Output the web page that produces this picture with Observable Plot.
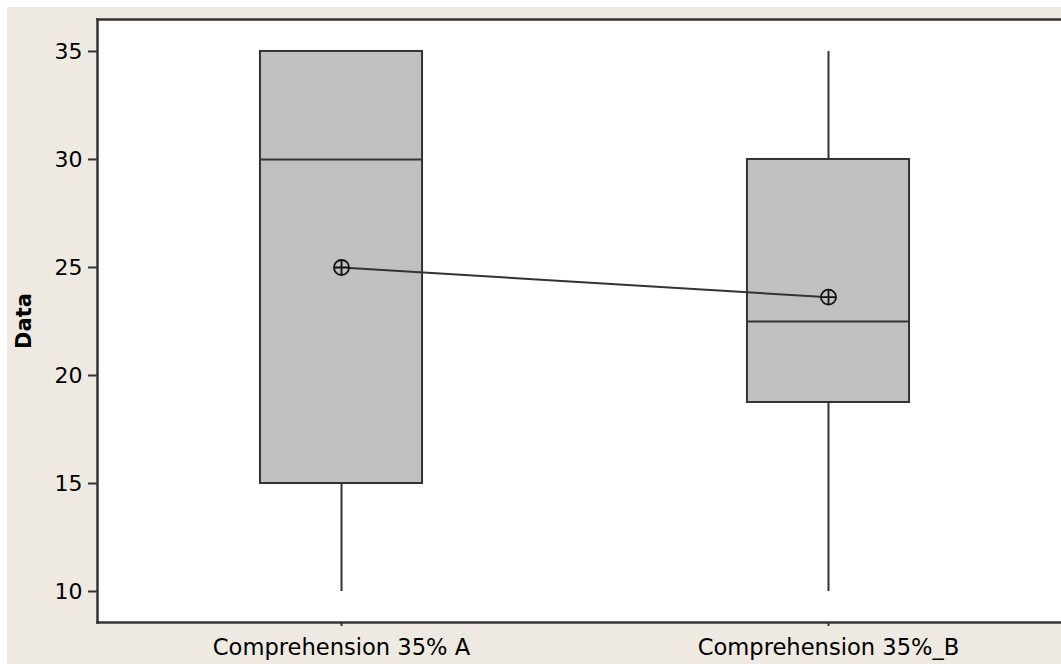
<!DOCTYPE html>
<html>
<head>
<meta charset="utf-8">
<script src="https://cdn.jsdelivr.net/npm/d3@7"></script>
<script src="https://cdn.jsdelivr.net/npm/@observablehq/plot@0.6"></script>
<style>
  html, body { margin: 0; padding: 0; background: #ffffff; }
  #bg { position: absolute; left: 7px; top: 7px; width: 1054px; height: 657px; background: #eeeae1; }
  #chart { position: absolute; left: 0; top: 0; }
  #chart svg { background: transparent; overflow: visible; }
</style>
</head>
<body>
<div id="bg"></div>
<div id="chart"></div>
<script>
// ---- data ----
const categories = ["Comprehension 35% A", "Comprehension 35%_B"];
const minimum = [10, 10];
const q1 = [15, 18.75];
const median = [30, 22.5];
const q3 = [35, 30];
const maximum = [35, 35];
const mean = [25, 23.625];
const yTicks = [10, 15, 20, 25, 30, 35];

const rows = categories.map((c, i) => ({
  i, name: c, min: minimum[i], q1: q1[i], med: median[i], q3: q3[i], max: maximum[i], mean: mean[i]
}));

const halfBox = 0.1664; // half box width in category units
const ink = "#333333";

// circle with cross symbol (Minitab mean marker)
const circlePlus = {
  draw(ctx, size) {
    const r = Math.sqrt(size / Math.PI);
    ctx.moveTo(r, 0);
    ctx.arc(0, 0, r, 0, 2 * Math.PI);
    ctx.moveTo(-r, 0); ctx.lineTo(r, 0);
    ctx.moveTo(0, -r); ctx.lineTo(0, r);
  }
};

const chart = Plot.plot({
  width: 1061,
  height: 664,
  marginLeft: 97,
  marginRight: 0,
  marginTop: 19,
  marginBottom: 42,
  style: { fontFamily: "DejaVu Sans, sans-serif", color: "#000", background: "transparent" },
  x: { type: "linear", domain: [-0.50103, 1.47844] },
  y: { type: "linear", domain: [8.565, 36.48] },
  marks: [
    Plot.frame({ fill: "white", stroke: "none" }),
    // whiskers
    Plot.ruleX(rows, { x: "i", y1: "min", y2: "q1", stroke: ink, strokeWidth: 2 }),
    Plot.ruleX(rows, { x: "i", y1: "q3", y2: "max", stroke: ink, strokeWidth: 2 }),
    // boxes
    Plot.rect(rows, { x1: d => d.i - halfBox, x2: d => d.i + halfBox, y1: "q1", y2: "q3", fill: "#c0c0c0", stroke: ink, strokeWidth: 2 }),
    // medians
    Plot.ruleY(rows, { y: "med", x1: d => d.i - halfBox, x2: d => d.i + halfBox, stroke: ink, strokeWidth: 2 }),
    // mean connect line
    Plot.line(rows, { x: "i", y: "mean", stroke: ink, strokeWidth: 2 }),
    Plot.dot(rows, { x: "i", y: "mean", r: 7.5, symbol: circlePlus, fill: "#c0c0c0", stroke: "#111", strokeWidth: 1.8 }),
    // axes
    Plot.axisY({ ticks: yTicks, tickSize: 9, tickPadding: 6, fontSize: 22, label: null, stroke: ink, strokeWidth: 2, fill: "#000" }),
    Plot.axisX({ ticks: [0, 1], tickFormat: i => categories[i], tickSize: 4, tickPadding: 12, fontSize: 22.6, label: null, stroke: ink, strokeWidth: 2, fill: "#000" }),
    // frame borders: top, left, bottom
    Plot.frame({ anchor: "top", stroke: ink, strokeWidth: 2.5 }),
    Plot.frame({ anchor: "left", stroke: ink, strokeWidth: 2.5 }),
    Plot.frame({ anchor: "bottom", stroke: ink, strokeWidth: 2.5 }),
    // y label
    Plot.text(["Data"], { frameAnchor: "left", dx: -73.5, rotate: -90, text: d => d, fontSize: 21, fontWeight: "bold", fill: "#000", textAnchor: "middle", lineAnchor: "middle" })
  ]
});
document.getElementById("chart").appendChild(chart);
</script>
</body>
</html>
